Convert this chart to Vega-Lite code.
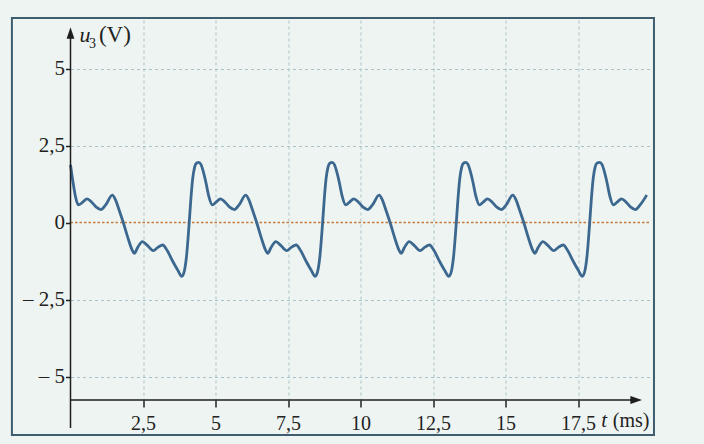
{
  "$schema": "https://vega.github.io/schema/vega-lite/v6.json",
  "width": 580,
  "height": 380,
  "autosize": {"type": "none"},
  "padding": {"left": 70.5, "top": 20, "right": 53.5, "bottom": 44},
  "background": "#eef4f1",
  "config": {"view": {"stroke": null}, "font": "Liberation Serif"},
  "data": {"values": [{}]},
  "datasets": {
    "u3": [
      {"t": 0, "u": 1.87}, {"t": 0.08, "u": 1.35}, {"t": 0.17, "u": 0.85}, {"t": 0.27, "u": 0.57},
      {"t": 0.42, "u": 0.66}, {"t": 0.57, "u": 0.77}, {"t": 0.74, "u": 0.65}, {"t": 0.89, "u": 0.5},
      {"t": 1.05, "u": 0.42}, {"t": 1.22, "u": 0.58}, {"t": 1.44, "u": 0.89}, {"t": 1.56, "u": 0.72},
      {"t": 1.67, "u": 0.42}, {"t": 1.82, "u": 0.0}, {"t": 1.98, "u": -0.5}, {"t": 2.12, "u": -0.88},
      {"t": 2.2, "u": -1.0}, {"t": 2.32, "u": -0.8}, {"t": 2.48, "u": -0.62}, {"t": 2.65, "u": -0.74},
      {"t": 2.85, "u": -0.91}, {"t": 3.02, "u": -0.8}, {"t": 3.18, "u": -0.73}, {"t": 3.34, "u": -0.92},
      {"t": 3.52, "u": -1.25}, {"t": 3.7, "u": -1.55}, {"t": 3.84, "u": -1.75}, {"t": 3.92, "u": -1.6},
      {"t": 4.0, "u": -1.1}, {"t": 4.09, "u": -0.05}, {"t": 4.15, "u": 0.75}, {"t": 4.21, "u": 1.4},
      {"t": 4.28, "u": 1.8}, {"t": 4.35, "u": 1.93},
      {"t": 4.42, "u": 1.95}, {"t": 4.5, "u": 1.88}, {"t": 4.58, "u": 1.65}, {"t": 4.67, "u": 1.3},
      {"t": 4.77, "u": 0.85}, {"t": 4.89, "u": 0.57}, {"t": 5.02, "u": 0.66}, {"t": 5.17, "u": 0.77},
      {"t": 5.34, "u": 0.65}, {"t": 5.49, "u": 0.5}, {"t": 5.65, "u": 0.42}, {"t": 5.82, "u": 0.58},
      {"t": 6.04, "u": 0.89}, {"t": 6.16, "u": 0.72}, {"t": 6.27, "u": 0.42}, {"t": 6.42, "u": 0.0},
      {"t": 6.58, "u": -0.5}, {"t": 6.72, "u": -0.88}, {"t": 6.8, "u": -1.0}, {"t": 6.92, "u": -0.8},
      {"t": 7.08, "u": -0.62}, {"t": 7.25, "u": -0.74}, {"t": 7.45, "u": -0.91}, {"t": 7.62, "u": -0.8},
      {"t": 7.78, "u": -0.73}, {"t": 7.94, "u": -0.92}, {"t": 8.12, "u": -1.25}, {"t": 8.3, "u": -1.55},
      {"t": 8.44, "u": -1.75}, {"t": 8.52, "u": -1.6}, {"t": 8.6, "u": -1.1}, {"t": 8.69, "u": -0.05},
      {"t": 8.75, "u": 0.75}, {"t": 8.81, "u": 1.4}, {"t": 8.88, "u": 1.8}, {"t": 8.95, "u": 1.93},
      {"t": 9.02, "u": 1.95}, {"t": 9.1, "u": 1.88}, {"t": 9.18, "u": 1.65}, {"t": 9.27, "u": 1.3},
      {"t": 9.37, "u": 0.85}, {"t": 9.49, "u": 0.57}, {"t": 9.62, "u": 0.66}, {"t": 9.77, "u": 0.77},
      {"t": 9.94, "u": 0.65}, {"t": 10.09, "u": 0.5}, {"t": 10.25, "u": 0.42}, {"t": 10.42, "u": 0.58},
      {"t": 10.64, "u": 0.89}, {"t": 10.76, "u": 0.72}, {"t": 10.87, "u": 0.42}, {"t": 11.02, "u": 0.0},
      {"t": 11.18, "u": -0.5}, {"t": 11.32, "u": -0.88}, {"t": 11.4, "u": -1.0}, {"t": 11.52, "u": -0.8},
      {"t": 11.68, "u": -0.62}, {"t": 11.85, "u": -0.74}, {"t": 12.05, "u": -0.91}, {"t": 12.22, "u": -0.8},
      {"t": 12.38, "u": -0.73}, {"t": 12.54, "u": -0.92}, {"t": 12.72, "u": -1.25}, {"t": 12.9, "u": -1.55},
      {"t": 13.05, "u": -1.75}, {"t": 13.13, "u": -1.6}, {"t": 13.21, "u": -1.1}, {"t": 13.3, "u": -0.05},
      {"t": 13.36, "u": 0.75}, {"t": 13.42, "u": 1.4}, {"t": 13.49, "u": 1.8}, {"t": 13.56, "u": 1.93},
      {"t": 13.63, "u": 1.95}, {"t": 13.71, "u": 1.88}, {"t": 13.79, "u": 1.65}, {"t": 13.88, "u": 1.3},
      {"t": 13.98, "u": 0.85}, {"t": 14.1, "u": 0.57}, {"t": 14.23, "u": 0.66}, {"t": 14.38, "u": 0.77},
      {"t": 14.55, "u": 0.65}, {"t": 14.7, "u": 0.5}, {"t": 14.86, "u": 0.42}, {"t": 15.03, "u": 0.58},
      {"t": 15.25, "u": 0.89}, {"t": 15.37, "u": 0.72}, {"t": 15.48, "u": 0.42}, {"t": 15.63, "u": 0.0},
      {"t": 15.79, "u": -0.5}, {"t": 15.93, "u": -0.88}, {"t": 16.01, "u": -1.0}, {"t": 16.13, "u": -0.8},
      {"t": 16.29, "u": -0.62}, {"t": 16.46, "u": -0.74}, {"t": 16.66, "u": -0.91}, {"t": 16.83, "u": -0.8},
      {"t": 16.99, "u": -0.73}, {"t": 17.15, "u": -0.92}, {"t": 17.33, "u": -1.25}, {"t": 17.51, "u": -1.55},
      {"t": 17.65, "u": -1.75}, {"t": 17.73, "u": -1.6}, {"t": 17.81, "u": -1.1}, {"t": 17.9, "u": -0.05},
      {"t": 17.96, "u": 0.75}, {"t": 18.02, "u": 1.4}, {"t": 18.09, "u": 1.8}, {"t": 18.16, "u": 1.93},
      {"t": 18.25, "u": 1.95}, {"t": 18.33, "u": 1.88}, {"t": 18.41, "u": 1.65}, {"t": 18.5, "u": 1.3},
      {"t": 18.6, "u": 0.85}, {"t": 18.72, "u": 0.57}, {"t": 18.85, "u": 0.66}, {"t": 19.0, "u": 0.77},
      {"t": 19.17, "u": 0.65}, {"t": 19.32, "u": 0.5}, {"t": 19.48, "u": 0.42}, {"t": 19.65, "u": 0.58},
      {"t": 19.87, "u": 0.89}
    ]
  },
  "layer": [
    {
      "mark": {"type": "rect", "fill": null, "fillOpacity": 0, "stroke": "#3f5d70", "strokeWidth": 2},
      "encoding": {
        "x": {"datum": -2.02, "type": "quantitative", "scale": {"domain": [0, 20], "nice": false, "zero": false}},
        "x2": {"datum": 20.12},
        "y": {"datum": 6.64, "type": "quantitative", "scale": {"domain": [-5.763, 6.575], "nice": false, "zero": false}},
        "y2": {"datum": -6.9}
      }
    },
    {
      "mark": {"type": "rule", "color": "#c47a3a", "strokeWidth": 1.3, "strokeDash": [2.5, 2]},
      "encoding": {
        "x": {"datum": 0, "type": "quantitative"},
        "x2": {"datum": 20},
        "y": {"datum": 0, "type": "quantitative"}
      }
    },
    {
      "data": {"name": "u3"},
      "mark": {"type": "line", "interpolate": "monotone", "color": "#3c6890", "strokeWidth": 2.8},
      "encoding": {
        "x": {
          "field": "t", "type": "quantitative",
          "scale": {"domain": [0, 20], "nice": false, "zero": false},
          "axis": {
            "values": [2.5, 5, 7.5, 10, 12.5, 15, 17.5],
            "title": null, "domain": false,
            "grid": true, "gridColor": "#a9c1c8", "gridDash": [3, 3], "gridWidth": 1,
            "ticks": true, "tickSize": 7, "tickColor": "#222222", "tickWidth": 1.5,
            "labelFont": "Liberation Serif", "labelFontSize": 20, "labelColor": "#222222",
            "labelPadding": 6,
            "labelExpr": "replace(toString(datum.value), '.', ',')"
          }
        },
        "y": {
          "field": "u", "type": "quantitative",
          "scale": {"domain": [-5.763, 6.575], "nice": false, "zero": false},
          "axis": {
            "values": [-5, -2.5, 0, 2.5, 5],
            "title": null, "domain": false,
            "grid": true, "gridColor": "#a9c1c8", "gridDash": [3, 3], "gridWidth": 1,
            "gridOpacity": {"condition": {"test": "datum.value === 0", "value": 0}, "value": 1},
            "ticks": true, "tickSize": 5, "tickColor": "#222222", "tickWidth": 1.5,
            "labelFont": "Liberation Serif", "labelFontSize": 21, "labelColor": "#222222",
            "labelPadding": 1,
            "labelExpr": "replace(replace(toString(datum.value), '.', ','), '-', '\u2013 ')"
          }
        }
      }
    },
    {
      "mark": {"type": "rule", "color": "#1e1e1e", "strokeWidth": 1.5},
      "encoding": {
        "x": {"datum": 0, "type": "quantitative"},
        "y": {"datum": 6.09, "type": "quantitative"},
        "y2": {"datum": -6.67}
      }
    },
    {
      "mark": {"type": "rule", "color": "#1e1e1e", "strokeWidth": 1.5},
      "encoding": {
        "x": {"datum": 0, "type": "quantitative"},
        "x2": {"datum": 19.44},
        "y": {"datum": -5.763, "type": "quantitative"}
      }
    },
    {
      "mark": {"type": "point", "shape": "M0,-1.2L0.6,0.6L-0.6,0.6Z", "size": 169, "filled": true, "color": "#1e1e1e", "opacity": 1},
      "encoding": {
        "x": {"datum": 0, "type": "quantitative"},
        "y": {"datum": 6.09, "type": "quantitative"}
      }
    },
    {
      "mark": {"type": "point", "shape": "M1.2,0L-0.6,0.6L-0.6,-0.6Z", "size": 169, "filled": true, "color": "#1e1e1e", "opacity": 1},
      "encoding": {
        "x": {"datum": 19.44, "type": "quantitative"},
        "y": {"datum": -5.763, "type": "quantitative"}
      }
    },
    {
      "mark": {"type": "text", "text": "u", "font": "Liberation Serif", "fontStyle": "italic", "fontSize": 22, "align": "left", "baseline": "alphabetic", "color": "#222222"},
      "encoding": {
        "x": {"datum": 0.31, "type": "quantitative"},
        "y": {"datum": 5.86, "type": "quantitative"}
      }
    },
    {
      "mark": {"type": "text", "text": "3", "font": "Liberation Serif", "fontSize": 14, "align": "left", "baseline": "alphabetic", "color": "#222222"},
      "encoding": {
        "x": {"datum": 0.64, "type": "quantitative"},
        "y": {"datum": 5.68, "type": "quantitative"}
      }
    },
    {
      "mark": {"type": "text", "text": "(V)", "font": "Liberation Serif", "fontSize": 23, "align": "left", "baseline": "alphabetic", "color": "#222222"},
      "encoding": {
        "x": {"datum": 0.98, "type": "quantitative"},
        "y": {"datum": 5.86, "type": "quantitative"}
      }
    },
    {
      "mark": {"type": "text", "text": "t", "font": "Liberation Serif", "fontStyle": "italic", "fontSize": 21, "align": "left", "baseline": "alphabetic", "color": "#222222"},
      "encoding": {
        "x": {"datum": 18.3, "type": "quantitative"},
        "y": {"datum": -6.64, "type": "quantitative"}
      }
    },
    {
      "mark": {"type": "text", "text": "(ms)", "font": "Liberation Serif", "fontSize": 20, "align": "left", "baseline": "alphabetic", "color": "#222222"},
      "encoding": {
        "x": {"datum": 18.7, "type": "quantitative"},
        "y": {"datum": -6.64, "type": "quantitative"}
      }
    }
  ]
}
